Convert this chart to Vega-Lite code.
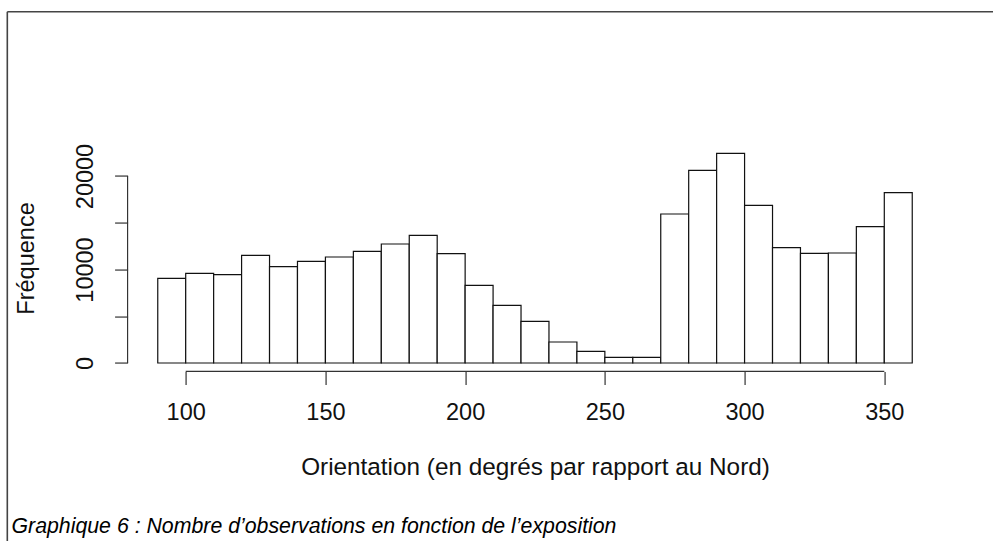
{
  "$schema": "https://vega.github.io/schema/vega-lite/v6.json",
  "width": 814.84,
  "height": 226.84,
  "autosize": {"type": "none"},
  "padding": {"left": 127.58, "top": 144.56, "right": 50.58, "bottom": 169.6},
  "background": "white",
  "config": {
    "view": {"stroke": null},
    "font": "Liberation Sans",
    "axis": {
      "grid": false,
      "domain": false,
      "tickSize": 13,
      "tickColor": "#333",
      "tickWidth": 1.2,
      "labelFont": "Liberation Sans",
      "labelFontSize": 23.5,
      "labelColor": "#111",
      "titleFont": "Liberation Sans",
      "titleFontSize": 23.5,
      "titleFontWeight": "normal",
      "titleColor": "#111",
      "labelFlush": false,
      "labelOverlap": false
    }
  },
  "title": {
    "text": "Graphique 6 : Nombre d’observations en fonction de l’exposition",
    "orient": "bottom",
    "anchor": "start",
    "offset": -26,
    "dx": 5,
    "font": "Liberation Sans",
    "fontSize": 21.3,
    "fontStyle": "italic",
    "fontWeight": "normal",
    "color": "#000"
  },
  "datasets": {
    "hist": [
      {"start": 90, "end": 100, "count": 9050},
      {"start": 100, "end": 110, "count": 9590},
      {"start": 110, "end": 120, "count": 9447},
      {"start": 120, "end": 130, "count": 11515},
      {"start": 130, "end": 140, "count": 10303},
      {"start": 140, "end": 150, "count": 10873},
      {"start": 150, "end": 160, "count": 11337},
      {"start": 160, "end": 170, "count": 11943},
      {"start": 170, "end": 180, "count": 12727},
      {"start": 180, "end": 190, "count": 13654},
      {"start": 190, "end": 200, "count": 11693},
      {"start": 200, "end": 210, "count": 8306},
      {"start": 210, "end": 220, "count": 6167},
      {"start": 220, "end": 230, "count": 4456},
      {"start": 230, "end": 240, "count": 2246},
      {"start": 240, "end": 250, "count": 1248},
      {"start": 250, "end": 260, "count": 606},
      {"start": 260, "end": 270, "count": 606},
      {"start": 270, "end": 280, "count": 15936},
      {"start": 280, "end": 290, "count": 20606},
      {"start": 290, "end": 300, "count": 22424},
      {"start": 300, "end": 310, "count": 16862},
      {"start": 310, "end": 320, "count": 12335},
      {"start": 320, "end": 330, "count": 11729},
      {"start": 330, "end": 340, "count": 11765},
      {"start": 340, "end": 350, "count": 14581},
      {"start": 350, "end": 360, "count": 18217}
    ]
  },
  "layer": [
    {
      "data": {"name": "hist"},
      "mark": {"type": "bar", "fill": "white", "stroke": "#111", "strokeWidth": 1.2},
      "encoding": {
        "x": {
          "field": "start",
          "type": "quantitative",
          "scale": {"domain": [79.2, 370.8], "nice": false, "zero": false},
          "axis": {
            "values": [100, 150, 200, 250, 300, 350],
            "labelPadding": 16,
            "title": "Orientation (en degrés par rapport au Nord)",
            "titleFontSize": 24.3,
            "titlePadding": 32
          }
        },
        "x2": {"field": "end"},
        "y": {
          "field": "count",
          "type": "quantitative",
          "scale": {"domain": [-898.56, 23362.56], "nice": false, "zero": false},
          "axis": {
            "values": [0, 5000, 10000, 15000, 20000],
            "labelExpr": "datum.value % 10000 === 0 ? format(datum.value, 'd') : ''",
            "labelAngle": -90,
            "labelAlign": "center",
            "labelBaseline": "bottom",
            "labelPadding": 17,
            "title": "Fréquence",
            "titlePadding": 35
          }
        },
        "y2": {"datum": 0}
      }
    },
    {
      "data": {"values": [{}]},
      "mark": {"type": "rule", "stroke": "#333", "strokeWidth": 1.2},
      "encoding": {
        "x": {"datum": 100, "type": "quantitative"},
        "x2": {"datum": 350},
        "y": {"datum": -898.56, "type": "quantitative"}
      }
    },
    {
      "data": {"values": [{}]},
      "mark": {"type": "rule", "stroke": "#333", "strokeWidth": 1.2},
      "encoding": {
        "x": {"datum": 79.2, "type": "quantitative"},
        "y": {"datum": 0, "type": "quantitative"},
        "y2": {"datum": 20000}
      }
    },
    {
      "data": {"values": [{}]},
      "mark": {"type": "rule", "stroke": "#444", "strokeWidth": 1.6},
      "encoding": {
        "x": {"datum": 36.16, "type": "quantitative"},
        "x2": {"datum": 392},
        "y": {"datum": 37570, "type": "quantitative"}
      }
    },
    {
      "data": {"values": [{}]},
      "mark": {"type": "rule", "stroke": "#444", "strokeWidth": 1.6},
      "encoding": {
        "x": {"datum": 36.16, "type": "quantitative"},
        "y": {"datum": 37570, "type": "quantitative"},
        "y2": {"datum": -19037}
      }
    }
  ]
}
